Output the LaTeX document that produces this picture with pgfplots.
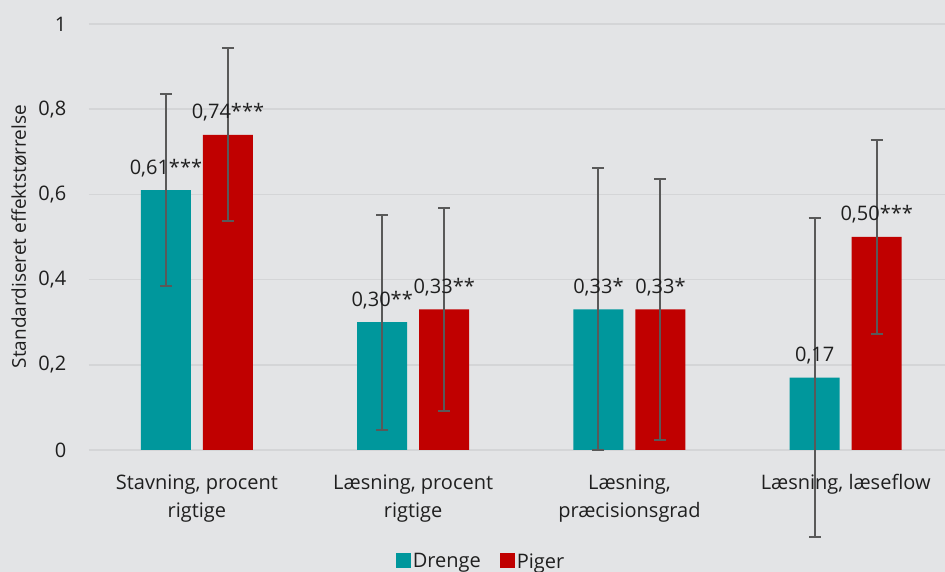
\documentclass[border=0pt]{standalone}
\usepackage{pgfplots}
\usepackage{pgfplotstable}
\pgfplotsset{compat=1.18}
\usepackage{fontspec}
\setmainfont{Open Sans}

\definecolor{bgc}{HTML}{E3E4E6}
\definecolor{gridc}{HTML}{D4D5D7}
\definecolor{drenge}{HTML}{00979C}
\definecolor{piger}{HTML}{C00000}
\definecolor{errc}{HTML}{595959}
\definecolor{txt}{HTML}{1F1F1F}

% effect size, half width of the confidence interval, printed label
\pgfplotstableread{
x y e lab
0 0.61 0.225 0,61***
1 0.30 0.252 0,30**
2 0.33 0.331 0,33*
3 0.17 0.374 0,17
}\drengetab
\pgfplotstableread{
x y e lab
0 0.74 0.203 0,74***
1 0.33 0.239 0,33**
2 0.33 0.307 0,33*
3 0.50 0.227 0,50***
}\pigertab

\newcommand{\fs}{\fontsize{20}{28}\selectfont}
\newcommand{\fsl}{\fontsize{19}{24}\selectfont}

\begin{document}
\begin{tikzpicture}
\fill[bgc] (0pt,0pt) rectangle (945pt,572pt);
\begin{axis}[
  at={(88.8pt,122pt)}, anchor=south west,
  scale only axis, width=865pt, height=426pt,
  xmin=-0.5, xmax=3.5, ymin=0, ymax=1,
  clip=false,
  axis line style={draw=none}, tick style={draw=none},
  ymajorgrids, grid style={gridc, line width=1.5pt},
  ytick={0,0.2,0.4,0.6,0.8,1},
  /pgf/number format/.cd, use comma, fixed, precision=1, assume math mode=true,
  /pgfplots/.cd,
  yticklabel style={font=\fs, text=txt, xshift=-19pt},
  xtick={0,1,2,3},
  xticklabels={{Stavning, procent\\rigtige},{Læsning, procent\\rigtige},{Læsning,\\præcisionsgrad},{Læsning, læseflow}},
  xticklabel style={font=\fs, text=txt, align=center, yshift=-21pt},
  ylabel={Standardiseret effektstørrelse},
  ylabel style={font=\fsl, text=txt, at={(axis description cs:-0.0807,0.501)}, anchor=center},
  legend style={at={(axis description cs:0.4534,-0.2617)}, anchor=center, draw=none, fill=none,
    font=\fs, text=txt, legend columns=2,
    /tikz/every even column/.append style={column sep=17pt}},
  legend image code/.code={\fill[#1] (0pt,-7pt) rectangle (15pt,8pt);},
  every node near coord/.append style={font=\fs, text=txt, anchor=south, yshift=10pt},
]
\addplot[ybar, bar width=50pt, bar shift=-31pt, fill=drenge, draw=none]
  table[x=x, y=y] {\drengetab};
\addlegendentry{Drenge}
\addplot[ybar, bar width=50pt, bar shift=31pt, fill=piger, draw=none]
  table[x=x, y=y] {\pigertab};
\addlegendentry{Piger}

% value labels above each bar
\addplot[draw=none, no markers, forget plot, point meta=explicit symbolic, nodes near coords]
  table[x expr=\thisrow{x}-0.1434, y=y, meta=lab] {\drengetab};
\addplot[draw=none, no markers, forget plot, point meta=explicit symbolic, nodes near coords]
  table[x expr=\thisrow{x}+0.1434, y=y, meta=lab] {\pigertab};

% confidence intervals drawn over bars and labels
\addplot[draw=none, no markers, forget plot,
  error bars/.cd, y dir=both, y explicit,
  error bar style={draw=errc, line width=2pt},
  error mark options={rotate=90, mark size=6pt, line width=2pt, draw=errc}]
  table[x expr=\thisrow{x}-0.1434, y=y, y error=e] {\drengetab};
\addplot[draw=none, no markers, forget plot,
  error bars/.cd, y dir=both, y explicit,
  error bar style={draw=errc, line width=2pt},
  error mark options={rotate=90, mark size=6pt, line width=2pt, draw=errc}]
  table[x expr=\thisrow{x}+0.1434, y=y, y error=e] {\pigertab};
\end{axis}
\pgfresetboundingbox
\path[use as bounding box] (0pt,0pt) rectangle (945pt,572pt);
\end{tikzpicture}
\end{document}
